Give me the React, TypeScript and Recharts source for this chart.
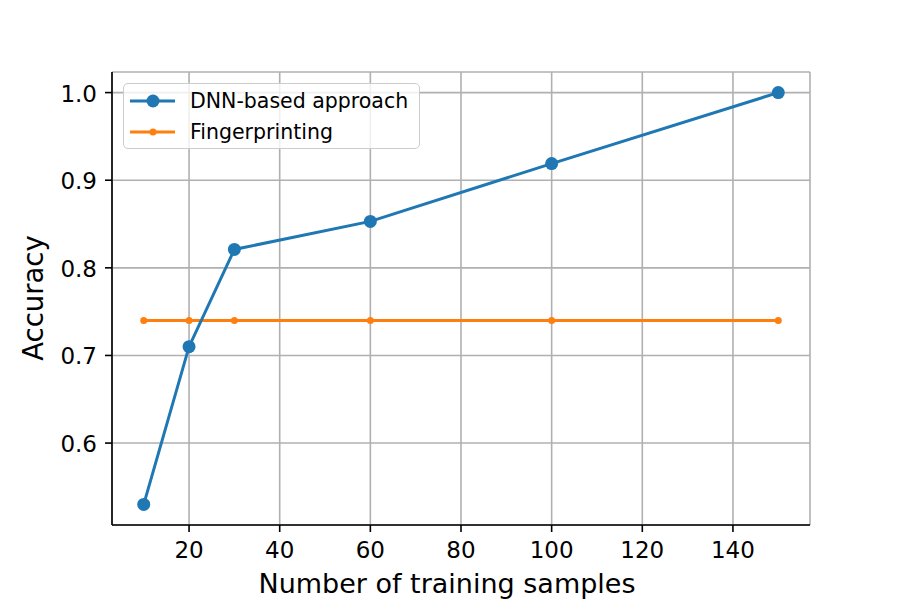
import React from 'react';
import {
    LineChart,
    Line,
    XAxis,
    YAxis,
    CartesianGrid,
} from 'recharts';

const samples: number[] = [10, 20, 30, 60, 100, 150];
const dnnAccuracy: number[] = [0.53, 0.71, 0.821, 0.853, 0.919, 1.0];
const fingerprintAccuracy: number[] = [0.74, 0.74, 0.74, 0.74, 0.74, 0.74];

const xTicks: number[] = [20, 40, 60, 80, 100, 120, 140];
const yTicks: number[] = [0.6, 0.7, 0.8, 0.9, 1.0];

const seriesNames: string[] = ['DNN-based approach', 'Fingerprinting'];

const data = samples.map((n, i) => ({
    n,
    dnn: dnnAccuracy[i],
    fp: fingerprintAccuracy[i],
}));

const BLUE = '#1f77b4';
const ORANGE = '#ff7f0e';
const FONT = '"DejaVu Sans", sans-serif';

// plot frame edges, in chart pixels
const PLOT_LEFT = 112;
const PLOT_BOTTOM = 525;

const XTick = (props: any) => {
    const { x, payload } = props;
    return (
        <g>
            <line x1={x} x2={x} y1={PLOT_BOTTOM} y2={PLOT_BOTTOM + 7} stroke="#000" strokeWidth={1.6} />
            <text x={x} y={PLOT_BOTTOM + 25} textAnchor="middle" dominantBaseline="central"
                  fontSize={23} fontFamily={FONT} fill="#000">
                {payload.value}
            </text>
        </g>
    );
};

const YTick = (props: any) => {
    const { y, payload } = props;
    return (
        <g>
            <line x1={PLOT_LEFT - 7} x2={PLOT_LEFT} y1={y} y2={y} stroke="#000" strokeWidth={1.6} />
            <text x={PLOT_LEFT - 15} y={y + 1} textAnchor="end" dominantBaseline="central"
                  fontSize={23} fontFamily={FONT} fill="#000">
                {Number(payload.value).toFixed(1)}
            </text>
        </g>
    );
};

// legend sits over the upper-left corner of the plot
const LegendBox = () => (
    <div style={{
        position: 'absolute',
        left: 123,
        top: 83,
        width: 297,
        height: 66,
        boxSizing: 'border-box',
        border: '1.5px solid #cccccc',
        borderRadius: 5,
        background: 'rgba(255,255,255,0.8)',
        fontFamily: FONT,
        fontSize: 20.5,
        color: '#000',
        padding: '1px 0 0 6px',
    }}>
        {seriesNames.map((name, i) => (
            <div key={name} style={{ display: 'flex', alignItems: 'center', height: 31 }}>
                <svg width={60} height={20}>
                    <line x1={0} x2={45} y1={10} y2={10} stroke={i === 0 ? BLUE : ORANGE} strokeWidth={3} />
                    <circle cx={23} cy={10} r={i === 0 ? 6.5 : 3.5} fill={i === 0 ? BLUE : ORANGE} />
                </svg>
                <span>{name}</span>
            </div>
        ))}
    </div>
);

const App = () => (
    <div style={{ position: 'absolute', left: 0, top: 0, width: 900, height: 600, background: '#fff' }}>
        <LineChart width={900} height={600} data={data}
                   margin={{ top: 72, right: 90, left: 0, bottom: 0 }}>
            <CartesianGrid stroke="#b0b0b0" strokeWidth={1.6} />
            <XAxis dataKey="n" type="number" domain={[3, 157]} ticks={xTicks}
                   allowDataOverflow height={75} tickLine={false} tick={<XTick />}
                   axisLine={{ stroke: '#000', strokeWidth: 1.6 }} />
            <XAxis xAxisId="top" orientation="top" dataKey="n" type="number" domain={[3, 157]}
                   height={0} tick={false} tickLine={false}
                   axisLine={{ stroke: '#000', strokeWidth: 1.6 }} />
            <YAxis type="number" domain={[0.5065, 1.0235]} ticks={yTicks}
                   allowDataOverflow width={112} tickLine={false} tick={<YTick />}
                   axisLine={{ stroke: '#000', strokeWidth: 1.6 }} />
            <YAxis yAxisId="right" orientation="right" type="number" domain={[0.5065, 1.0235]}
                   width={0} tick={false} tickLine={false}
                   axisLine={{ stroke: '#000', strokeWidth: 1.6 }} />
            <Line dataKey="fp" name={seriesNames[1]} stroke={ORANGE} strokeWidth={3}
                  dot={{ r: 3.5, fill: ORANGE, stroke: 'none' }} isAnimationActive={false} />
            <Line dataKey="dnn" name={seriesNames[0]} stroke={BLUE} strokeWidth={3}
                  dot={{ r: 6.5, fill: BLUE, stroke: 'none' }} isAnimationActive={false} />
        </LineChart>
        <LegendBox />
        <svg width={900} height={600} style={{ position: 'absolute', left: 0, top: 0, pointerEvents: 'none' }}>
            <text x={447} y={583} textAnchor="middle" dominantBaseline="central"
                  fontSize={27} fontFamily={FONT} fill="#000">
                Number of training samples
            </text>
            <text x={33} y={298} textAnchor="middle" dominantBaseline="central"
                  fontSize={27.5} fontFamily={FONT} fill="#000" transform="rotate(-90 33 298)">
                Accuracy
            </text>
        </svg>
    </div>
);

export default App;
